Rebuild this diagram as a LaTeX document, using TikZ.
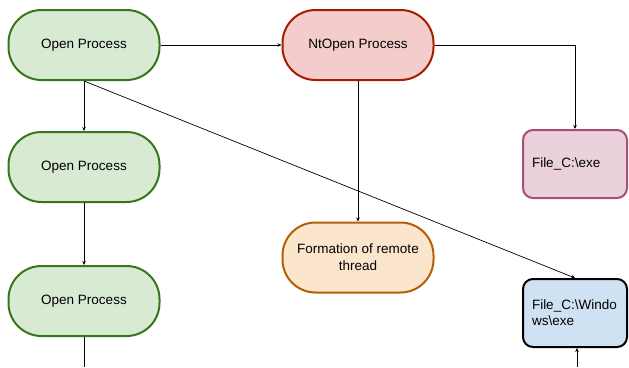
\documentclass[tikz,border=0pt]{standalone}
\usepackage{fontspec}
\setmainfont{Liberation Sans}
\usetikzlibrary{arrows.meta}
\definecolor{gfill}{HTML}{D9EAD3}\definecolor{gline}{HTML}{38761D}
\definecolor{rfill}{HTML}{F4CCCC}\definecolor{rline}{HTML}{A61C00}
\definecolor{ofill}{HTML}{FCE5CD}\definecolor{oline}{HTML}{B45F06}
\definecolor{pfill}{HTML}{EAD1DC}\definecolor{pline}{HTML}{A64D79}
\definecolor{bfill}{HTML}{CFE2F3}
\tikzset{
  pill/.style={draw, line width=2pt, rounded corners=33pt, minimum width=151pt, minimum height=70pt, align=center, font=\fontsize{13.5}{17}\selectfont, inner sep=0pt},
  green/.style={pill, fill=gfill, draw=gline},
  red/.style={pill, fill=rfill, draw=rline},
  orange/.style={pill, fill=ofill, draw=oline},
  filebox/.style={draw, line width=2pt, rounded corners=10pt, minimum width=104pt, minimum height=68pt, text width=86pt, align=left, font=\fontsize{13.5}{16}\selectfont, inner sep=0pt},
  conn/.style={line width=0.7pt, -{Stealth[length=4pt,width=3.5pt]}},
  plain/.style={line width=0.7pt}
}
\begin{document}
\begin{tikzpicture}[x=1pt,y=-1pt]
\useasboundingbox (0,0) rectangle (629,367);
\node[green] (op1) at (84,45) {Open Process};
\node[green] (op2) at (84,167) {Open Process};
\node[green] (op3) at (84,301) {Open Process};
\node[red] (nt) at (358,45) {NtOpen Process};
\node[orange] (form) at (358,257.5) {Formation of remote\\thread};
\node[filebox, fill=pfill, draw=pline] (fexe) at (575,164) {File\_C:\textbackslash exe};
\node[filebox, fill=bfill, draw=black] (fwin) at (575,313) {File\_C:\textbackslash Windo\\ws\textbackslash exe};
\coordinate (b1) at (84,367);
\coordinate (b2) at (577,367);
\draw[conn] (op1) -- (nt);
\draw[conn] (op1.south) -- (op2.north);
\draw[conn] (op2.south) -- (op3.north);
\draw[plain] (op3.south) -- (b1);
\draw[conn] (nt.east) -| (fexe.north);
\draw[conn] (nt.south) -- (form.north);
\draw[conn] (op1.south) -- (fwin.north);
\draw[conn] (b2) -- (b2 |- fwin.south);
\end{tikzpicture}
\end{document}
